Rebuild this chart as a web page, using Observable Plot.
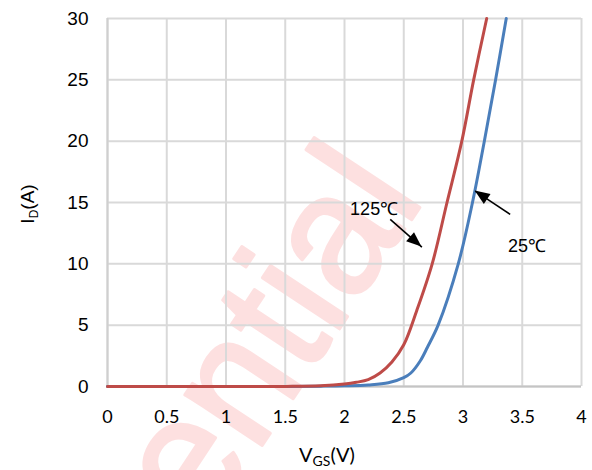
<!DOCTYPE html>
<html>
<head>
<meta charset="utf-8">
<script src="https://cdn.jsdelivr.net/npm/d3@7"></script>
<script src="https://cdn.jsdelivr.net/npm/@observablehq/plot@0.6"></script>
<style>
  html, body { margin: 0; padding: 0; background: #fff; }
  #chart svg { display: block; }
</style>
</head>
<body>
<div id="chart"></div>
<script>
// Transfer characteristic: drain current vs gate-source voltage
const vgs125 = [0, 0.5, 1, 1.5, 1.8, 2.0, 2.1, 2.2, 2.3, 2.4, 2.5, 2.61, 2.74, 2.865, 2.99, 3.09, 3.2];
const id125  = [0, 0, 0, 0.01, 0.06, 0.2, 0.34, 0.56, 1.1, 2.0, 3.4, 6.2, 10, 15, 20, 25, 30];

const vgs25 = [0, 1.0, 1.5, 1.8, 2.0, 2.2, 2.37, 2.5, 2.56, 2.64, 2.7, 2.79, 2.96, 3.08, 3.18, 3.275, 3.365];
const id25  = [0, 0, 0.01, 0.03, 0.06, 0.13, 0.3, 0.72, 1.1, 2.1, 3.2, 5, 10, 15, 20, 25, 30];

const xTicks = [0, 0.5, 1, 1.5, 2, 2.5, 3, 3.5, 4];
const yTicks = [0, 5, 10, 15, 20, 25, 30];

// Temperature call-outs: label anchor and arrow from tail to tip (data units)
const calloutText = ["125℃", "25℃"];
const calloutX = [2.25, 3.54];
const calloutY = [14.45, 11.45];
const arrowX1 = [2.386, 3.398];
const arrowY1 = [13.62, 14.03];
const arrowX2 = [2.653, 3.103];
const arrowY2 = [11.37, 15.93];

const curve125 = vgs125.map((v, i) => ({v, id: id125[i]}));
const curve25 = vgs25.map((v, i) => ({v, id: id25[i]}));
const callouts = calloutText.map((t, i) => ({t, x: calloutX[i], y: calloutY[i]}));
const arrows = arrowX1.map((x1, i) => ({x1, y1: arrowY1[i], x2: arrowX2[i], y2: arrowY2[i]}));

const gridColor = "#d9d9d9";

const plot = Plot.plot({
  width: 592,
  height: 470,
  marginLeft: 107,
  marginRight: 11,
  marginTop: 18,
  marginBottom: 84,
  style: {background: "#fff", overflow: "visible"},
  x: {domain: [0, 4]},
  y: {domain: [0, 30]},
  marks: [
    Plot.gridX(xTicks, {stroke: gridColor, strokeOpacity: 1, strokeWidth: 2}),
    Plot.gridY(yTicks, {stroke: gridColor, strokeOpacity: 1, strokeWidth: 2}),
    Plot.ruleX([0], {stroke: "#cfcfcf", strokeWidth: 2}),
    Plot.ruleY([0], {stroke: "#c4c4c4", strokeWidth: 2}),
    Plot.axisX(xTicks, {
      tickSize: 0, tickPadding: 24, label: null,
      fontSize: 18, fontFamily: "Lato", fill: "#000",
      tickFormat: d => String(d)
    }),
    Plot.axisY(yTicks, {
      tickSize: 0, tickPadding: 19, label: null,
      fontSize: 19, fontFamily: "Liberation Sans", fill: "#000"
    }),
    Plot.line(curve25, {x: "v", y: "id", stroke: "#4a7ebb", strokeWidth: 3, curve: "catmull-rom"}),
    Plot.line(curve125, {x: "v", y: "id", stroke: "#be4b48", strokeWidth: 3, curve: "catmull-rom"}),
    Plot.link(arrows, {x1: "x1", y1: "y1", x2: "x2", y2: "y2", stroke: "#000", strokeWidth: 1.6}),
    Plot.text(callouts, {x: "x", y: "y", text: "t", fontSize: 18, fontFamily: "Liberation Sans", fill: "#000"})
  ]
});

const svg = d3.select(plot);
const sx = plot.scale("x"), sy = plot.scale("y");

// Document watermark, drawn beneath the marks
svg.insert("text", ":first-child")
  .attr("transform", "translate(426,198) rotate(-56.5)")
  .attr("text-anchor", "end")
  .attr("font-family", "Liberation Sans")
  .attr("font-size", 175)
  .attr("textLength", 402)
  .attr("lengthAdjust", "spacingAndGlyphs")
  .attr("fill", "#fde0e0")
  .attr("stroke", "#fde0e0")
  .attr("stroke-width", 3)
  .attr("stroke-linejoin", "round")
  .text("ential");

// Filled arrowheads at each tip
arrows.forEach(a => {
  const px1 = sx.apply(a.x1), py1 = sy.apply(a.y1);
  const px2 = sx.apply(a.x2), py2 = sy.apply(a.y2);
  const ang = Math.atan2(py2 - py1, px2 - px1);
  const len = 15, half = 6;
  const bx = px2 - len * Math.cos(ang), by = py2 - len * Math.sin(ang);
  const nx = -Math.sin(ang) * half, ny = Math.cos(ang) * half;
  svg.append("path")
    .attr("d", `M${px2},${py2}L${bx + nx},${by + ny}L${bx - nx},${by - ny}Z`)
    .attr("fill", "#000");
});

// Axis titles with subscripts
const xt = svg.append("text")
  .attr("x", 327).attr("y", 462)
  .attr("text-anchor", "middle")
  .attr("font-family", "Lato").attr("font-size", 20).attr("fill", "#000");
xt.append("tspan").text("V");
xt.append("tspan").attr("font-size", 14).attr("dy", 4).text("GS");
xt.append("tspan").attr("dy", -4).text("(V)");

const yt = svg.append("text")
  .attr("transform", "translate(34,204) rotate(-90)")
  .attr("text-anchor", "middle")
  .attr("font-family", "Liberation Sans").attr("font-size", 19).attr("fill", "#000");
yt.append("tspan").text("I");
yt.append("tspan").attr("font-size", 12).attr("dy", 4).text("D");
yt.append("tspan").attr("dy", -4).text("(A)");

document.getElementById("chart").appendChild(plot);
</script>
</body>
</html>
